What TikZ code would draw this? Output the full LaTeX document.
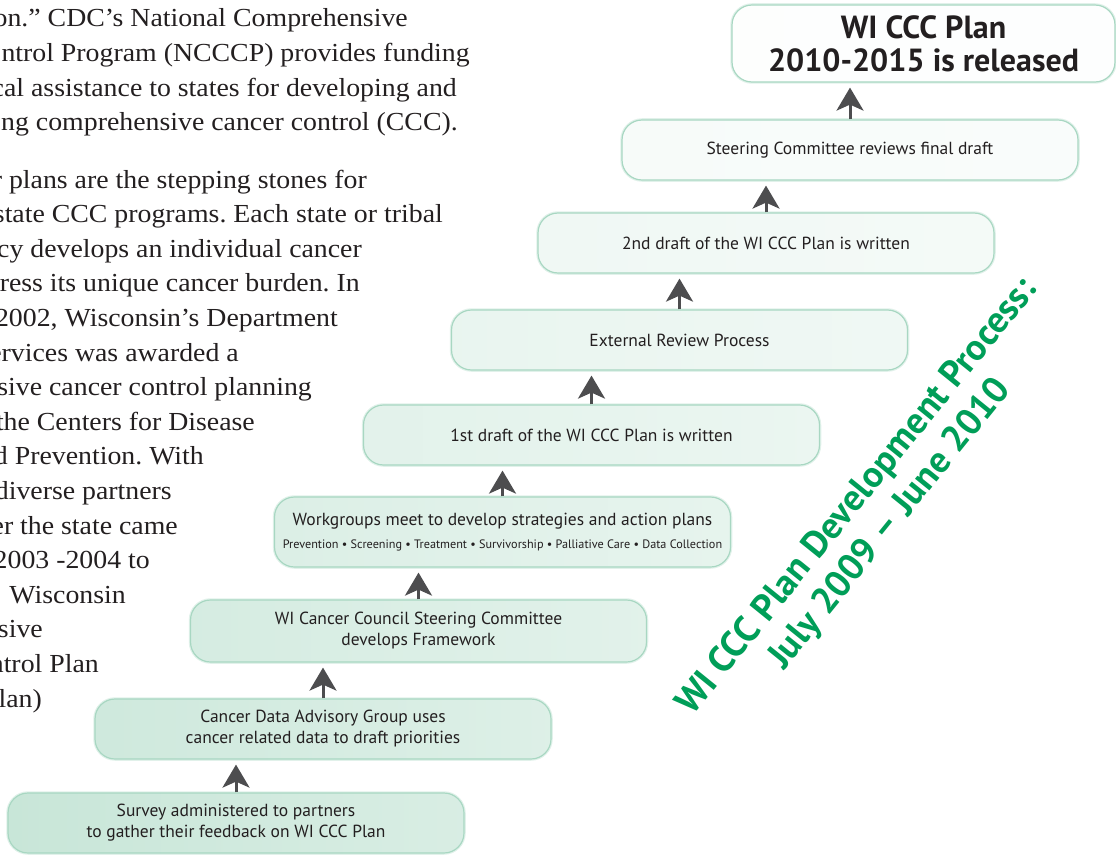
\documentclass[tikz,border=0pt]{standalone}
\usepackage{fontspec}
\setmainfont{Liberation Serif}[FakeStretch=1.07]
\setsansfont{PT Sans}
\usetikzlibrary{arrows.meta}
\frenchspacing
\definecolor{boxgreen}{RGB}{200,230,216}
\definecolor{boxedge}{RGB}{168,215,194}
\definecolor{arrowgray}{RGB}{77,77,79}
\definecolor{titlegreen}{RGB}{0,158,88}
\definecolor{inkgray}{RGB}{35,31,32}
\tikzset{
  stepbox/.style={draw=boxedge, line width=1.2pt, rounded corners=20pt,
    preaction={draw=boxedge, line width=3.5pt, opacity=0.35},
    left color=boxgreen!#1!white, right color=boxgreen!#1!white!70!white,
    minimum width=456pt, minimum height=60pt, inner sep=0pt, align=center,
    text=inkgray, font=\sffamily\fontsize{17.5}{21}\selectfont},
  uparrow/.style={draw=arrowgray, line width=3pt,
    -{Stealth[length=23pt,width=27pt,inset=6pt]}, shorten >=5pt},
  bodytext/.style={anchor=base east, inner sep=0pt, text=inkgray,
    font=\rmfamily\fontsize{26}{31}\selectfont},
}

\begin{document}
\begin{tikzpicture}[x=1pt,y=-1pt]
  \useasboundingbox (0,0) rectangle (1116,856);
  \clip (0,0) rectangle (1116,856);
  \node [bodytext] (t1) at (408,27) {on.” CDC’s National Comprehensive};
  \node [bodytext] (t2) at (470,61.6) {ntrol Program (NCCCP) provides funding};
  \node [bodytext] (t3) at (457,96.2) {cal assistance to states for developing and};
  \node [bodytext, anchor=base west] (t4) at (1,130.8) {ng comprehensive cancer control (CCC).};
  \node [bodytext] (t5) at (367,188) {r plans are the stepping stones for};
  \node [bodytext] (t6) at (443,222.6) {state CCC programs. Each state or tribal};
  \node [bodytext] (t7) at (362,257.2) {cy develops an individual cancer};
  \node [bodytext] (t8) at (360,291.8) {ress its unique cancer burden. In};
  \node [bodytext] (t9) at (338,326.4) {2002, Wisconsin’s Department};
  \node [bodytext] (t10) at (239,361) {ervices was awarded a};
  \node [bodytext] (t11) at (312,395.6) {sive cancer control planning};
  \node [bodytext] (t12) at (255,430.2) {the Centers for Disease};
  \node [bodytext] (t13) at (204,464.8) {d Prevention. With};
  \node [bodytext] (t14) at (172,499.4) {diverse partners};
  \node [bodytext] (t15) at (178,534) {er the state came};
  \node [bodytext] (t16) at (150,568.6) {2003 -2004 to};
  \node [bodytext] (t17) at (126,603.2) {Wisconsin};
  \node [bodytext] (t18) at (43,637.8) {nsive};
  \node [bodytext] (t19) at (99,672.4) {ntrol Plan};
  \node [bodytext] (t20) at (42,707) {lan)};

  \node [stepbox=4, minimum width=383pt, minimum height=77pt,
    font=\sffamily\bfseries\fontsize{32}{33}\selectfont] (released) at (923.5,43.5) {WI CCC Plan\\2010-2015 is released};
  \node [stepbox=15] (final) at (850,150) {Steering Committee reviews final draft};
  \node [stepbox=28] (second) at (766,243) {2nd draft of the WI CCC Plan is written};
  \node [stepbox=40] (external) at (679.5,340) {External Review Process};
  \node [stepbox=52] (first) at (591.5,435) {1st draft of the WI CCC Plan is written};
  \node [stepbox=64, minimum height=70pt] (workgroups) at (502.5,532) {Workgroups meet to develop strategies and action plans\\[2pt]
    {\fontsize{12.2}{14}\selectfont Prevention • Screening • Treatment • Survivorship • Palliative Care • Data Collection}};
  \node [stepbox=76, minimum height=62pt] (council) at (418.5,631) {WI Cancer Council Steering Committee\\develops Framework};
  \node [stepbox=88] (data) at (323,729) {Cancer Data Advisory Group uses\\cancer related data to draft priorities};
  \node [stepbox=100] (survey) at (236,823) {Survey administered to partners\\to gather their feedback on WI CCC Plan};

  \draw [uparrow] (survey.north) -- (survey.north |- data.south);
  \draw [uparrow] (data.north) -- (data.north |- council.south);
  \draw [uparrow] (council.north) -- (council.north |- workgroups.south);
  \draw [uparrow] (workgroups.north) -- (workgroups.north |- first.south);
  \draw [uparrow] (first.north) -- (first.north |- external.south);
  \draw [uparrow] (external.north) -- (external.north |- second.south);
  \draw [uparrow] (second.north) -- (second.north |- final.south);
  \draw [uparrow] (final.north) -- (final.north |- released.south);

  \node [rotate=51, align=center, text=titlegreen,
    font=\sffamily\bfseries\fontsize{37}{42.5}\selectfont] (period) at (874,511) {WI CCC Plan Development Process:\\July 2009 – June 2010};
\end{tikzpicture}
\end{document}
